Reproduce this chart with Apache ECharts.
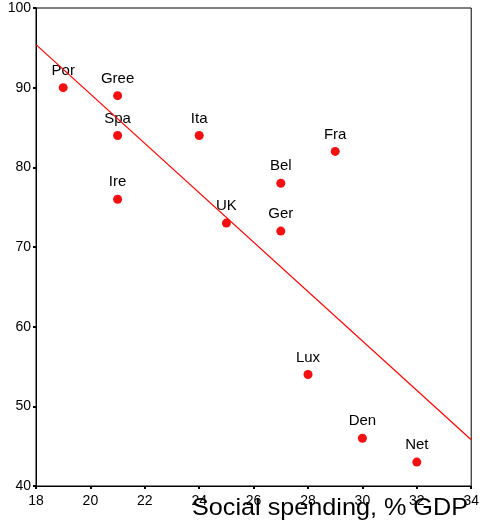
<!DOCTYPE html>
<html>
<head>
<meta charset="utf-8">
<script src="https://cdn.jsdelivr.net/npm/echarts@6/dist/echarts.min.js"></script>
<style>
  html, body { margin: 0; padding: 0; background: #fff; }
  #chart { width: 482px; height: 521px; }
</style>
</head>
<body>
<div id="chart"></div>
<script>
// country labels, social spending (% GDP) and the y values
const countries = ['Por', 'Gree', 'Spa', 'Ire', 'Ita', 'UK', 'Bel', 'Ger', 'Fra', 'Lux', 'Den', 'Net'];
const spending = [19, 21, 21, 21, 24, 25, 27, 27, 29, 28, 30, 32];
const values = [90, 89, 84, 76, 84, 73, 78, 72, 82, 54, 46, 43];
// fitted line, read at the two ends of the x axis
const fitX = [18, 34];
const fitY = [95.4, 45.8];

const points = countries.map((c, i) => ({ name: c, value: [spending[i], values[i]] }));
const fit = fitX.map((x, i) => [x, fitY[i]]);

const chart = echarts.init(document.getElementById('chart'));
chart.setOption({
  animation: false,
  grid: { left: 36, right: 9, top: 8, bottom: 35, show: true, borderColor: '#000', borderWidth: 1 },
  xAxis: {
    type: 'value', min: 18, max: 34, interval: 2,
    axisLine: { show: true, onZero: false, lineStyle: { color: '#000', width: 1 } },
    axisTick: { show: true, length: 3, lineStyle: { color: '#000', width: 2 } },
    axisLabel: { color: '#000', fontSize: 14, fontFamily: 'Liberation Sans', margin: 8 },
    splitLine: { show: false }
  },
  yAxis: {
    type: 'value', min: 40, max: 100, interval: 10,
    axisLine: { show: true, lineStyle: { color: '#000', width: 1 } },
    axisTick: { show: true, length: 3, lineStyle: { color: '#000', width: 2 } },
    axisLabel: { color: '#000', fontSize: 14, fontFamily: 'Liberation Sans', margin: 5 },
    splitLine: { show: false }
  },
  graphic: [{
    type: 'text', x: 192, y: 520, scaleX: 1.05, z: 100,
    style: {
      text: 'Social spending, % GDP', fill: '#000', fontSize: 24,
      fontFamily: 'Liberation Sans', verticalAlign: 'bottom', align: 'left'
    }
  }],
  series: [
    {
      type: 'line', data: fit, symbol: 'none',
      lineStyle: { color: '#ff0000', width: 1.2 }
    },
    {
      type: 'scatter', data: points, symbol: 'circle', symbolSize: 9,
      itemStyle: { color: '#f41010', opacity: 1 },
      label: {
        show: true, position: 'top', distance: 5,
        formatter: p => p.name,
        color: '#000', opacity: 1, fontSize: 15, fontFamily: 'Liberation Sans'
      }
    }
  ]
});
</script>
</body>
</html>
